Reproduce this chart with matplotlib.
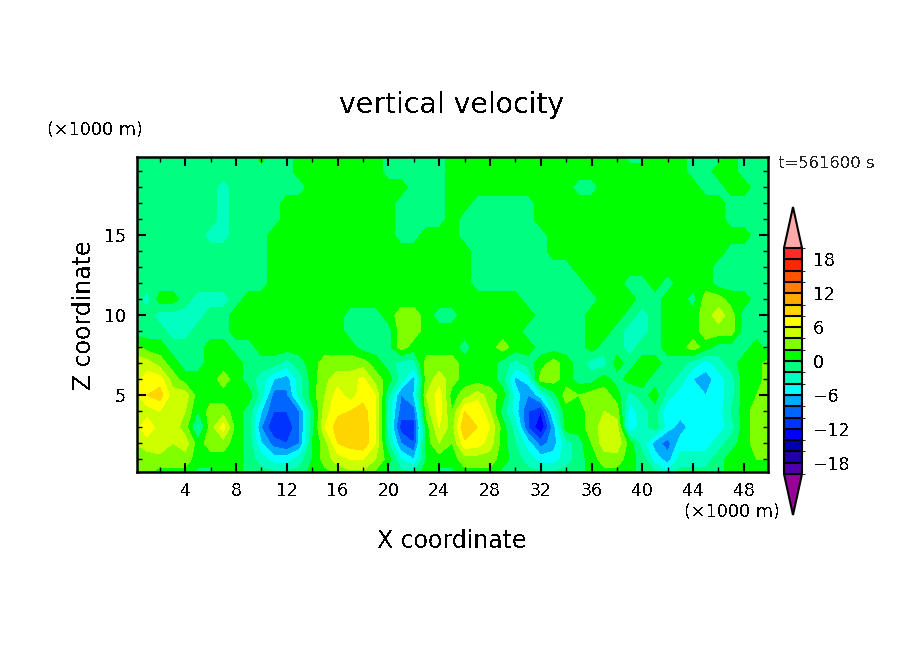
import numpy as np
import matplotlib
matplotlib.use('Agg')
import matplotlib.pyplot as plt
from matplotlib.colors import ListedColormap, BoundaryNorm
from matplotlib.ticker import MultipleLocator

plt.rcParams['text.antialiased'] = False

x_km = list(range(0, 51))
z_km = list(range(0, 21))

# vertical velocity, row by row from z=20 down to z=0
w_rows = [
    [-1,-1,-1,-1,-1,-1,-1,-1,-1,-1,  1,-1,-1, 1, 1, 1, 1, 1, 1, 1, -1,-1,-1,-1,-1, 1, 1, 1, 1, 1,  1, 1, 1, 1, 1, 1, 1, 1, 1,-1, -1, 1, 1, 1,-1,-1,-1, 1,-1,-1, -1],
    [-1,-1,-1,-1,-1,-1,-1,-1,-1,-1, -1,-1,-1, 1, 1, 1, 1, 1, 1, 1, -1,-1,-1,-1,-1, 1, 1, 1, 1, 1,  1, 1, 1, 1, 1, 1, 1, 1, 1, 1,  1, 1, 1, 1,-1,-1, 1, 1,-1,-1, -1],
    [-1,-1,-1,-1,-1,-1,-1,-3,-1,-1, -1,-1,-1,-1, 1, 1, 1, 1, 1, 1,  1, 1,-1,-1,-1, 1, 1, 1, 1, 1,  1, 1, 1, 1, 1,-1,-1, 1, 1, 1,  1, 1, 1, 1, 1,-1,-1, 1, 1,-1, -1],
    [-1,-1,-1,-1,-1,-1,-1,-3,-1,-1, -1,-1, 1, 1, 1, 1, 1, 1, 1, 1,  1,-1,-1,-1,-1, 1, 1,-1,-1,-1, -1,-1, 1, 1, 1, 1, 1, 1, 1, 1,  1, 1, 1, 1, 1, 1, 1,-1,-1,-1, -1],
    [-1,-1,-1,-1,-1,-1,-1,-3,-1,-1, -1,-1, 1, 1, 1, 1, 1, 1, 1, 1,  1,-1,-1,-1,-1, 1,-1,-1,-1,-1, -1,-1, 1, 1, 1, 1, 1, 1, 1, 1,  1, 1, 1, 1, 1, 1, 1,-1,-1,-1, -1],
    [-1,-1,-1,-1,-1,-1,-3,-3,-1,-1, -1, 1, 1, 1, 1, 1, 1, 1, 1, 1,  1,-1,-1, 1, 1, 1,-1,-1,-1,-1, -1,-1,-1, 1, 1, 1, 1, 1, 1, 1,  1, 1, 1, 1, 1, 1, 1, 1, 1,-1, -1],
    [-1,-1,-1,-1,-1,-1,-1,-1,-1,-1, -1, 1, 1, 1, 1, 1, 1, 1, 1, 1,  1, 1, 1, 1, 1, 1, 1,-1,-1,-1, -1,-1,-1, 1, 1, 1, 1, 1, 1, 1,  1, 1, 1, 1, 1, 1, 1,-1,-1,-1, -1],
    [-1,-1,-1,-1,-1,-1,-1,-1,-1,-1, -1, 1, 1, 1, 1, 1, 1, 1, 1, 1,  1, 1, 1, 1, 1, 1, 1,-1,-1,-1, -1,-1,-1,-1,-1, 1, 1, 1, 1, 1,  1, 1, 1, 1, 1, 1,-1,-1,-1,-1, -1],
    [-1,-1,-1,-1,-1,-1,-1,-1,-1,-1, -1, 1, 1, 1, 1, 1, 1, 1, 1, 1,  1, 1, 1, 1, 1, 1, 1,-1,-1,-1, -1,-1,-1,-1,-1,-1, 1, 1, 1,-1, -1, 1,-1, 1, 1, 1,-1,-1,-1,-1, -1],
    [-1,-3, 1, 1,-1,-3,-3,-3,-1, 1,  1, 1, 1, 1, 1, 1, 1, 1, 1, 1,  1, 1, 1, 1, 1, 1, 1, 1, 1, 1,  1,-1,-1,-1,-1,-1,-1, 1, 1, 1, -1,-1, 1, 1,-1, 3, 3, 1, 1,-1, -1],
    [-1,-1,-3,-3,-3,-3,-1,-1, 1, 1,  1, 1, 1, 1, 1, 1, 1,-1,-1,-1,  1, 3, 3, 1,-1,-1, 1, 1, 1, 1,  1, 1,-1,-1,-1,-1, 1, 1, 1,-1, -3,-1, 1, 1, 1, 3, 5, 3,-1,-1, -1],
    [-1,-1,-1,-3,-3,-1,-1,-1, 1, 1,  1, 1, 1, 1, 1, 1, 1,-1,-1,-1, -1, 3, 3, 1, 1, 1, 1, 1, 1, 1,  1,-1,-1,-1,-1,-1, 1, 1,-1,-3, -3,-1, 1, 1, 1, 3, 3, 3,-1,-1, -1],
    [ 3, 1, 1,-1,-1,-1, 1, 1,-1,-1,  1, 1, 1, 1, 1, 1, 1, 1,-1,-1, -1, 3, 1, 1, 1, 1,-1, 1, 1, 3,  1, 1,-1,-1,-1,-1, 1,-1,-1,-3, -1,-1, 1, 1, 3, 1,-1,-1,-1, 1, -1],
    [ 5, 5, 3, 1,-1,-1, 1, 1, 1,-1, -1,-1,-3,-1, 1, 3, 3, 3, 3, 1, -1,-3,-3, 3, 3, 3, 1, 1, 1,-1, -3,-1, 1, 3, 1,-1,-3,-3, 1,-1,  1, 1,-1,-1,-3,-5,-3,-1, 1, 1,  3],
    [ 5, 7, 7, 3, 1, 1, 1, 3, 1,-1, -3,-6,-7,-3, 1, 3.5, 5, 5, 6.5, 3,  1,-3,-7, 3, 5, 3, 1, 1, 1,-1, -6.5,-5, 3, 3, 1,-1,-1, 1,-1, 1,  1,-1,-1,-3,-6,-7,-5,-3, 1, 1,  3],
    [ 5, 8, 9, 5, 5, 1, 1, 1, 1, 1, -3,-9,-8.5,-3, 1, 4, 7, 5, 7, 6, -2,-8,-6, 4, 7, 1, 3, 5, 3, 1, -5,-8,-5,-1, 3, 2, 3, 3, 1,-3, -1, 1,-3,-5,-5,-6,-5,-3, 1, 2,  3],
    [ 4, 5, 6, 5, 4, 0, 3, 3, 1,-1, -6,-10,-10,-8,-1, 5, 7.5, 8, 9, 6, -3,-9,-9, 3, 7, 2, 8, 8, 4,-1, -5,-10,-12,-4, 1, 1, 3, 4, 3,-5, -3,-1,-6,-5,-5,-5,-5,-2, 1, 3,  3],
    [ 5, 7.5, 5, 5, 3,-3, 3, 7, 1,-1, -8,-12,-12,-8,-1, 6, 9, 9.5, 9.5, 6, -3,-11,-11, 1, 6, 3, 10, 8, 6, 1, -3,-10,-14,-7, 1, 1, 3, 5, 5,-6, -3,-1,-5,-7,-5,-5,-5,-3, 1, 3,  3],
    [ 4, 5, 6, 4, 5, 1, 3, 3, 1,-1, -6,-9,-10,-8, 0, 3, 8, 9, 9.5, 6, -2,-8,-10, 1, 4, 2, 7.5, 7, 5, 1, -2,-5,-9,-7,-3,-1, 2, 5, 5.5, 1, -3,-7,-9,-5,-5,-5,-3,-1, 1, 3,  3],
    [ 3, 3, 3, 3, 3, 1, 1, 1, 1,-1, -3,-5,-5,-3, 0, 3, 5, 6, 6, 4,  1,-4,-6, 0, 1, 1, 3, 3, 3, 1, -1,-3,-5,-5,-3,-1, 1, 3, 3, 1, -1,-5,-7,-3,-3,-3,-1, 1, 1, 2,  2],
    [ 3, 2, 1, 1, 1,-1,-1, 1, 1,-1, -1,-1,-1,-1, 1, 1, 2, 3, 3, 1, -1,-1,-1, 1,-1,-1, 1, 1, 1,-1, -1,-1,-1,-1,-1,-1, 1, 1, 1, 1, -1,-1,-3,-1,-1,-1,-1, 1, 1, 1,  1],
]

levels = list(range(-20, 22, 2))
cbar_ticks = [-18, -12, -6, 0, 6, 12, 18]
band_colors = ['#5000AA', '#2000AA', '#0000AA', '#0000FF', '#0033FF', '#0066FF', '#00AAFF',
               '#00FFFF', '#00FFC0', '#00FF80', '#00FF00', '#80FF00', '#CCFF00', '#FFFF00',
               '#FFD500', '#FFAA00', '#FF8000', '#FF5500', '#FF2800', '#FF2A2A']

w = np.array(w_rows[::-1], dtype=float)

cmap = ListedColormap(band_colors)
cmap.set_under('#990099')
cmap.set_over('#FFAAAA')
norm = BoundaryNorm(levels, cmap.N)

W, H = 904, 654
fig = plt.figure(figsize=(W / 100, H / 100), dpi=100, facecolor='white')
ax = fig.add_axes([137 / W, 1 - 472 / H, (768 - 137) / W, (472 - 157) / H])

cf = ax.contourf(x_km, z_km, w, levels=levels, cmap=cmap, norm=norm, extend='both', antialiased=False)

ax.set_xlim(0.2, 49.9)
ax.set_ylim(0.2, 19.9)
ax.xaxis.set_major_locator(MultipleLocator(4))
ax.xaxis.set_minor_locator(MultipleLocator(2))
ax.yaxis.set_major_locator(MultipleLocator(5))
ax.yaxis.set_minor_locator(MultipleLocator(1))
ax.tick_params(which='major', direction='in', top=True, right=True, length=6.5, width=1.5, labelsize=12.5)
ax.tick_params(axis='x', which='major', pad=7)
ax.tick_params(axis='y', which='major', pad=8)
ax.tick_params(which='minor', direction='in', top=True, right=True, length=3.5, width=1)
for s in ax.spines.values():
    s.set_linewidth(1.8)
ax.set_axisbelow(False)

# text placed by pixel, same as the reference
fig.text(452 / W, 1 - 105 / H, 'vertical velocity', fontsize=20.4, ha='center', va='center')
fig.text(452 / W, 1 - 541 / H, 'X coordinate', fontsize=17, ha='center', va='center')
fig.text(84 / W, 1 - 315 / H, 'Z coordinate', fontsize=17, ha='center', va='center', rotation=90)
fig.text(47 / W, 1 - 130 / H, '(×1000 m)', fontsize=12.7, ha='left', va='center')
fig.text(684 / W, 1 - 512 / H, '(×1000 m)', fontsize=12.7, ha='left', va='center')
fig.text(778 / W, 1 - 164 / H, 't=561600 s', fontsize=11.8, ha='left', va='center', color='#222222')

# colorbar, its axes box also holds the two pointed ends
cax = fig.add_axes([784 / W, 1 - 515 / H, 18 / W, 308 / H])
cb = fig.colorbar(cf, cax=cax, ticks=cbar_ticks, extend='both', extendfrac=41 / 226, drawedges=True, spacing='uniform')
cb.ax.tick_params(length=0, labelsize=12.5, pad=8)
cb.outline.set_linewidth(1.5)
cb.dividers.set_linewidth(1.5)

fig.savefig('out.png', dpi=100, facecolor='white')
